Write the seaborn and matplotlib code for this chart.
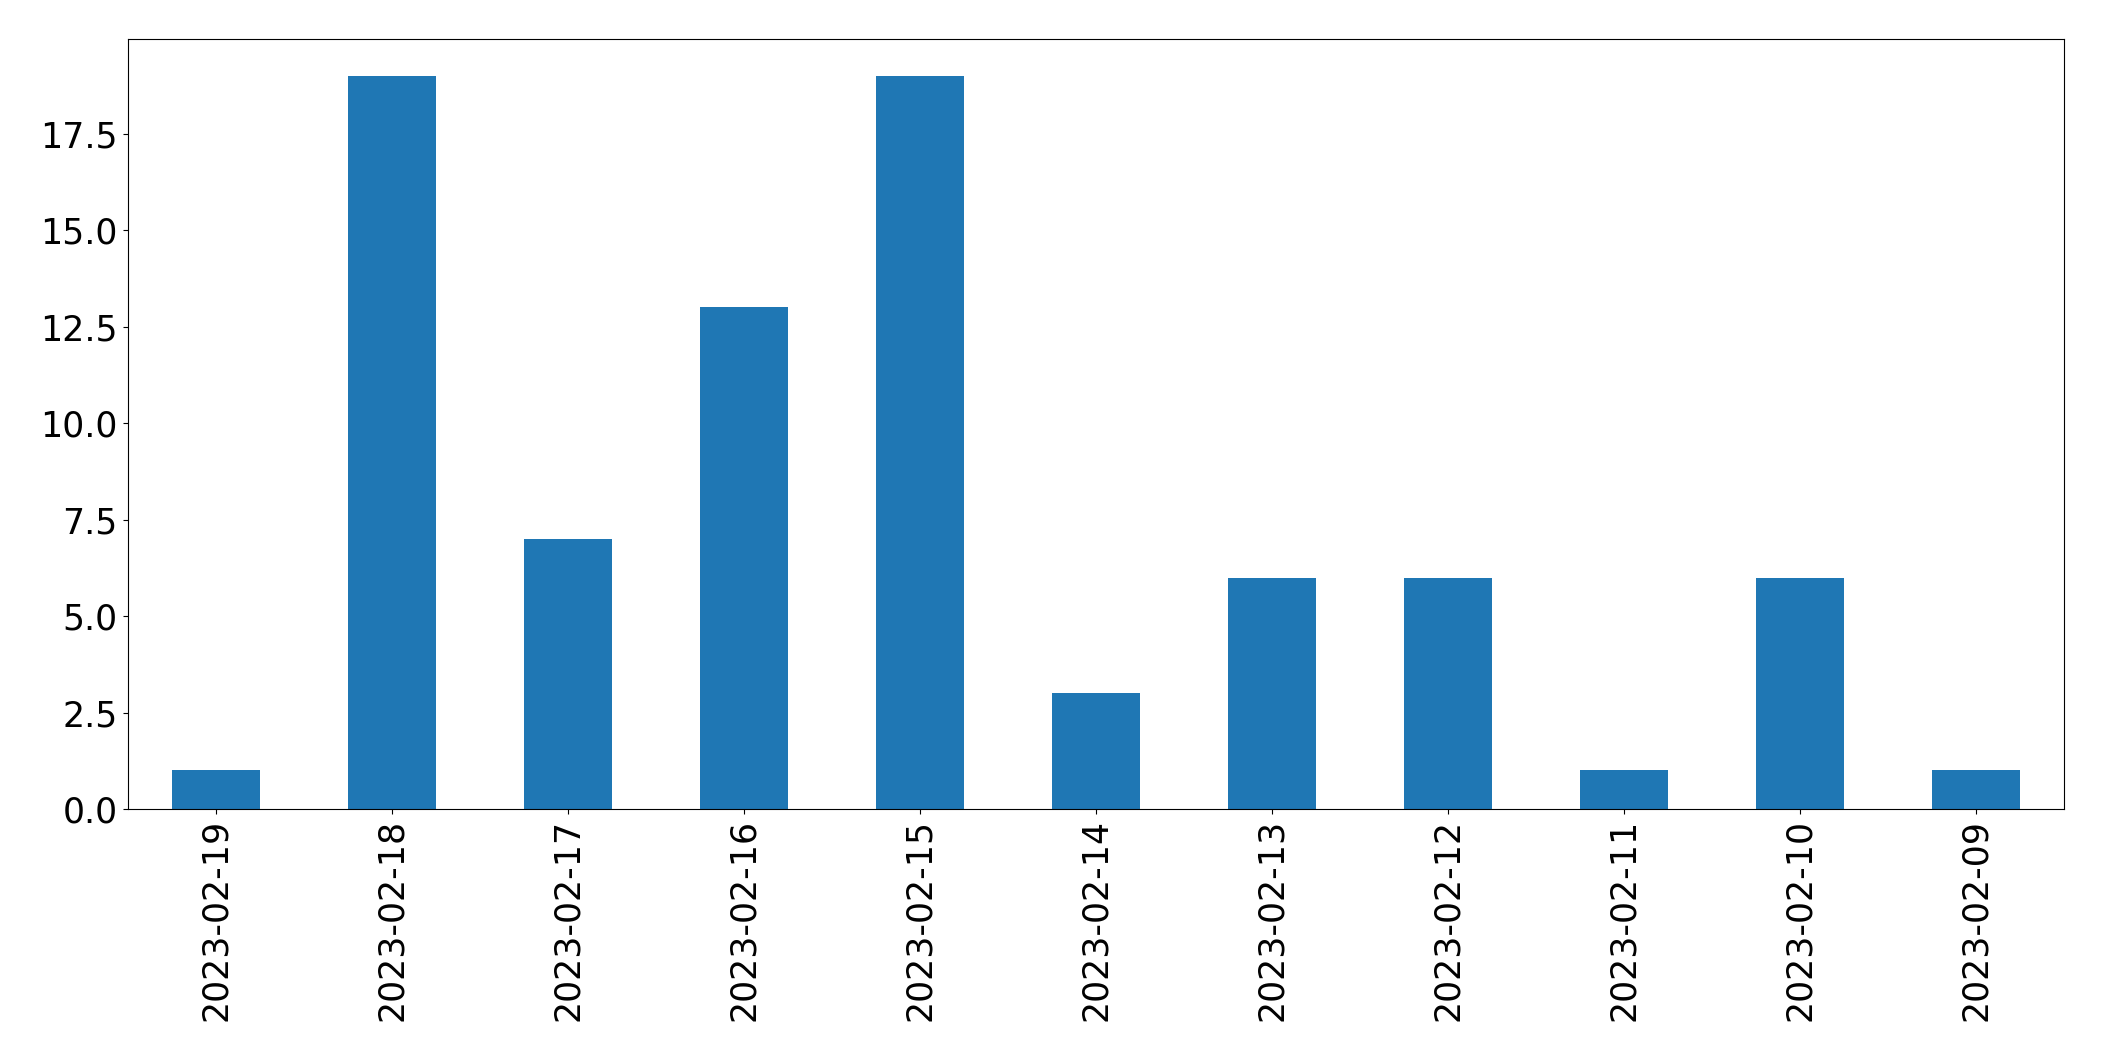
import matplotlib
matplotlib.use("Agg")
import matplotlib.pyplot as plt
import pandas as pd
import seaborn as sns

# daily counts, newest first (as in the original)
dates = ["2023-02-19", "2023-02-18", "2023-02-17", "2023-02-16", "2023-02-15",
         "2023-02-14", "2023-02-13", "2023-02-12", "2023-02-11", "2023-02-10",
         "2023-02-09"]
counts = [1, 19, 7, 13, 19, 3, 6, 6, 1, 6, 1]

df = pd.DataFrame({"date": dates, "count": counts})

fig = plt.figure(figsize=(21.04, 10.61), dpi=100)
ax = fig.add_axes([0.0606, 0.2375, 0.9204, 0.7255])

sns.barplot(data=df, x="date", y="count", order=dates, color="#1f77b4",
            saturation=1, width=0.5, linewidth=0, ax=ax)

ax.set_xlabel("")
ax.set_ylabel("")
ax.tick_params(axis="x", labelrotation=90, labelsize=25)
ax.tick_params(axis="y", labelsize=25)

fig.savefig("out.png", dpi=100)
